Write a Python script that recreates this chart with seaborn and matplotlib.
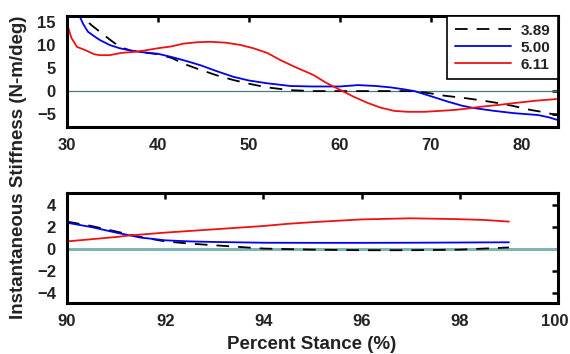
import matplotlib
matplotlib.use("Agg")
import matplotlib.pyplot as plt
import matplotlib.transforms as mtransforms
import seaborn as sns

# Faixa 30-84 % (painel de cima)
top_x_389 = [31.0, 31.8, 32.7, 33.6, 34.7, 35.8, 37.0, 38.0, 40.0, 41.5, 43.0, 44.7, 46.5, 48.3, 50.0,
             52.0, 54.6, 57.0, 60.5, 64.0, 68.0, 70.0, 71.5, 73.7, 75.5, 77.4, 79.0, 81.0, 82.5, 84.0]
top_y_389 = [18.5, 15.9, 14.3, 12.9, 11.2, 9.6, 8.8, 8.5, 8.0, 7.2, 5.8, 4.6, 3.4, 2.4, 1.6,
             0.8, 0.2, 0.0, 0.0, 0.0, 0.0, -0.5, -1.0, -1.5, -2.0, -2.6, -3.2, -4.1, -4.6, -5.3]
top_x_500 = [31.0, 31.4, 31.8, 32.3, 33.0, 33.6, 34.7, 35.8, 37.0, 38.0, 40.0, 41.5, 43.0, 44.7, 46.5,
             48.3, 50.0, 52.0, 54.6, 57.0, 60.0, 62.0, 64.0, 65.6, 67.0, 68.2, 70.0, 71.9, 73.5, 74.8,
             77.0, 79.2, 81.8, 83.0, 84.0]
top_y_500 = [18.0, 16.2, 14.5, 12.9, 11.9, 11.1, 10.0, 9.3, 8.8, 8.5, 8.1, 7.4, 6.6, 5.6, 4.3,
             3.1, 2.3, 1.7, 1.1, 1.0, 1.0, 1.3, 1.1, 0.8, 0.4, 0.0, -1.1, -2.3, -3.2, -3.7,
             -4.3, -4.8, -5.2, -5.7, -6.3]
top_x_611 = [29.9, 30.0, 30.1, 30.5, 31.1, 32.0, 33.0, 33.6, 34.7, 36.0, 37.3, 38.5, 40.0, 41.5, 42.8,
             44.3, 45.8, 47.5, 49.1, 50.5, 52.0, 53.5, 55.0, 57.1, 58.5, 60.1, 61.5, 63.1, 64.5, 66.0,
             67.5, 69.3, 71.0, 72.6, 74.0, 75.5, 77.5, 79.2, 81.5, 84.0]
top_y_611 = [17.5, 15.9, 14.0, 11.5, 9.6, 8.9, 8.0, 7.8, 7.8, 8.3, 8.5, 8.8, 9.3, 9.7, 10.3,
             10.6, 10.7, 10.5, 10.0, 9.3, 8.3, 6.7, 5.3, 3.5, 1.8, 0.2, -1.2, -2.6, -3.6, -4.3,
             -4.5, -4.5, -4.3, -4.1, -3.8, -3.4, -3.0, -2.6, -2.1, -1.7]

# Faixa 90-99 % (painel de baixo)
bot_x_389 = [90.0, 90.5, 91.0, 91.5, 92.0, 92.5, 93.0, 93.5, 94.0, 94.5, 95.0, 96.0, 97.0, 98.0, 98.5, 99.0]
bot_y_389 = [2.5, 2.1, 1.6, 1.1, 0.7, 0.5, 0.35, 0.2, 0.05, 0.0, -0.05, -0.1, -0.1, -0.05, 0.05, 0.15]
bot_x_500 = [90.0, 90.5, 91.0, 91.5, 92.0, 92.5, 93.0, 94.0, 95.0, 96.0, 97.0, 98.0, 99.0]
bot_y_500 = [2.4, 2.0, 1.5, 1.05, 0.8, 0.7, 0.65, 0.58, 0.57, 0.57, 0.58, 0.6, 0.62]
bot_x_611 = [90.0, 91.0, 91.3, 92.0, 93.0, 94.0, 94.5, 95.0, 96.0, 97.0, 97.9, 98.5, 99.0]
bot_y_611 = [0.7, 1.1, 1.25, 1.5, 1.8, 2.1, 2.3, 2.45, 2.7, 2.8, 2.73, 2.65, 2.5]

labels = ["3.89", "5.00", "6.11"]
top_xticks = [30, 40, 50, 60, 70, 80]
top_yticks = [-5, 0, 5, 10, 15]
bot_xticks = [90, 92, 94, 96, 98, 100]
bot_yticks = [-4, -2, 0, 2, 4]

sns.set_style("white")
plt.rcParams["font.family"] = ["Liberation Sans", "DejaVu Sans"]
plt.rcParams["font.weight"] = "bold"

fig = plt.figure(figsize=(5.7, 3.54), dpi=100)
ax1 = fig.add_axes([0.1175, 0.6412, 0.8615, 0.3136])
ax2 = fig.add_axes([0.1175, 0.144, 0.8615, 0.3108])

# Painel de cima
ax1.axhline(0, color="#4a7a7a", lw=0.9, zorder=1)
sns.lineplot(x=top_x_389, y=top_y_389, ax=ax1, color="black", lw=1.3, label=labels[0],
             dashes=False, sort=False)
ax1.lines[-1].set_dashes([7, 5])
sns.lineplot(x=top_x_500, y=top_y_500, ax=ax1, color="#0000ee", lw=1.3, label=labels[1], sort=False)
sns.lineplot(x=top_x_611, y=top_y_611, ax=ax1, color="#ee1111", lw=1.3, label=labels[2], sort=False)
ax1.set_xlim(30, 84)
ax1.set_ylim(-7.8, 16.3)
ax1.set_xticks(top_xticks)
ax1.set_yticks(top_yticks)
leg = ax1.legend(loc="upper right", fancybox=False, framealpha=1, edgecolor="black",
                 borderaxespad=0, handlelength=3.7, fontsize=11, borderpad=0.5,
                 labelspacing=0.2, handletextpad=0.6)
leg.get_frame().set_linewidth(1.2)
leg.legend_handles[0].set_dashes([7, 5])
for t in leg.get_texts():
    t.set_color("#222222")

# Painel de baixo
ax2.axhline(0, color="#80b4b4", lw=2.2, zorder=1)
sns.lineplot(x=bot_x_389, y=bot_y_389, ax=ax2, color="black", lw=1.3, sort=False)
ax2.lines[-1].set_dashes([7, 5])
sns.lineplot(x=bot_x_500, y=bot_y_500, ax=ax2, color="#0000ee", lw=1.3, sort=False)
sns.lineplot(x=bot_x_611, y=bot_y_611, ax=ax2, color="#ee1111", lw=1.3, sort=False)
ax2.set_xlim(90, 100)
ax2.set_ylim(-4.9, 5.1)
ax2.set_xticks(bot_xticks)
ax2.set_yticks(bot_yticks)

for ax in (ax1, ax2):
    for s in ax.spines.values():
        s.set_linewidth(2.2)
        s.set_color("black")
    ax.tick_params(direction="in", length=4, width=1.8, top=True, right=True,
                   labelsize=12, pad=8, colors="black", labelcolor="#222222")
    for t in ax.get_xticklabels() + ax.get_yticklabels():
        t.set_fontweight("bold")
    ax.set_xlabel("")
    ax.set_ylabel("")

# "100" encostado na borda direita: puxar um pouco para dentro
last = ax2.get_xticklabels()[-1]
last.set_transform(last.get_transform() + mtransforms.ScaledTranslation(-2.5 / 72, 0, fig.dpi_scale_trans))

fig.text(0.033, 0.528, "Instantaneous Stiffness (N-m/deg)", rotation=90, ha="center", va="center",
         fontsize=13.5, fontweight="bold", color="#222222")
fig.text(0.546, 0.003, "Percent Stance (%)", ha="center", va="bottom", fontsize=13.5,
         fontweight="bold", color="#222222")

plt.savefig("out.png", dpi=100)
